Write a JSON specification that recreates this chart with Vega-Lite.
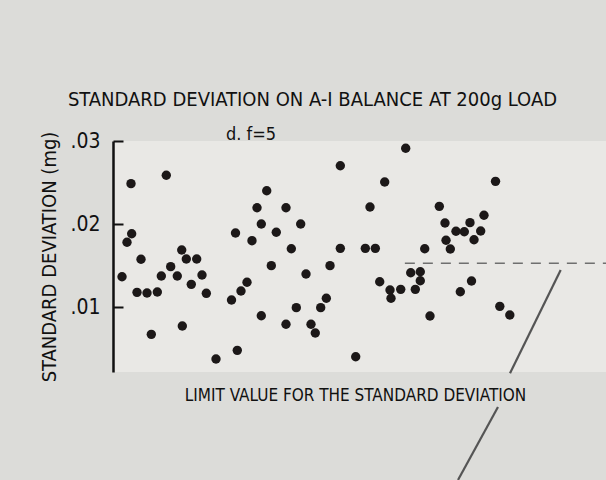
{
  "$schema": "https://vega.github.io/schema/vega-lite/v6.json",
  "width": 493,
  "height": 231,
  "autosize": "none",
  "padding": {"left": 113, "top": 141, "right": 0, "bottom": 108},
  "background": "#dcdcd9",
  "config": {
    "view": {"fill": "#e9e8e5", "stroke": null},
    "font": "'DejaVu Sans Condensed', Roboto, sans-serif"
  },
  "datasets": {
    "points": [
      {"sample": 1.83, "sd": 0.01365}, {"sample": 2.84, "sd": 0.0178}, {"sample": 3.79, "sd": 0.01883},
      {"sample": 3.65, "sd": 0.02486}, {"sample": 4.87, "sd": 0.01177}, {"sample": 5.68, "sd": 0.01575},
      {"sample": 6.90, "sd": 0.01169}, {"sample": 7.77, "sd": 0.00671}, {"sample": 8.99, "sd": 0.01181},
      {"sample": 9.80, "sd": 0.01373}, {"sample": 10.81, "sd": 0.02587}, {"sample": 11.70, "sd": 0.01486},
      {"sample": 13.04, "sd": 0.01373}, {"sample": 13.94, "sd": 0.01687}, {"sample": 14.06, "sd": 0.00771},
      {"sample": 14.87, "sd": 0.01578}, {"sample": 15.88, "sd": 0.01273}, {"sample": 16.98, "sd": 0.01578},
      {"sample": 18.05, "sd": 0.01386}, {"sample": 18.93, "sd": 0.01165}, {"sample": 20.89, "sd": 0.00373},
      {"sample": 24.04, "sd": 0.01084}, {"sample": 24.85, "sd": 0.01892}, {"sample": 25.21, "sd": 0.00478},
      {"sample": 25.96, "sd": 0.01193}, {"sample": 27.18, "sd": 0.01298}, {"sample": 28.19, "sd": 0.01799},
      {"sample": 29.21, "sd": 0.02196}, {"sample": 30.08, "sd": 0.02}, {"sample": 30.08, "sd": 0.00895},
      {"sample": 31.18, "sd": 0.02401}, {"sample": 32.11, "sd": 0.01498}, {"sample": 33.12, "sd": 0.019},
      {"sample": 35.09, "sd": 0.02196}, {"sample": 35.09, "sd": 0.00792}, {"sample": 36.17, "sd": 0.01702},
      {"sample": 37.18, "sd": 0.00992}, {"sample": 38.07, "sd": 0.02}, {"sample": 39.15, "sd": 0.01398},
      {"sample": 40.16, "sd": 0.00792}, {"sample": 41.03, "sd": 0.00687}, {"sample": 42.13, "sd": 0.00992},
      {"sample": 43.27, "sd": 0.01105}, {"sample": 44.02, "sd": 0.01498}, {"sample": 46.11, "sd": 0.02702},
      {"sample": 46.11, "sd": 0.01707}, {"sample": 49.23, "sd": 0.00401}, {"sample": 51.18, "sd": 0.01707},
      {"sample": 52.13, "sd": 0.02205}, {"sample": 53.21, "sd": 0.01707}, {"sample": 54.10, "sd": 0.01305},
      {"sample": 55.11, "sd": 0.02506}, {"sample": 56.19, "sd": 0.01205}, {"sample": 56.39, "sd": 0.01105},
      {"sample": 58.36, "sd": 0.01213}, {"sample": 59.37, "sd": 0.02912}, {"sample": 60.39, "sd": 0.01413},
      {"sample": 61.32, "sd": 0.01213}, {"sample": 62.33, "sd": 0.01425}, {"sample": 62.33, "sd": 0.01317},
      {"sample": 63.23, "sd": 0.01702}, {"sample": 64.30, "sd": 0.00892}, {"sample": 66.19, "sd": 0.02213},
      {"sample": 67.34, "sd": 0.02012}, {"sample": 67.55, "sd": 0.01804}, {"sample": 68.42, "sd": 0.01699},
      {"sample": 69.57, "sd": 0.01912}, {"sample": 70.45, "sd": 0.01184}, {"sample": 71.26, "sd": 0.01907},
      {"sample": 72.41, "sd": 0.02016}, {"sample": 72.72, "sd": 0.01313}, {"sample": 73.23, "sd": 0.01811},
      {"sample": 74.58, "sd": 0.01916}, {"sample": 75.25, "sd": 0.02105}, {"sample": 77.59, "sd": 0.02514},
      {"sample": 78.46, "sd": 0.01008}, {"sample": 80.49, "sd": 0.00904}
    ],
    "limit": [{"sample": 59.2, "sample2": 100, "sd": 0.01527}],
    "pointer": [
      {"sample": 90.81, "sd": 0.01446, "sample2": 80.53, "sd2": 0.00201},
      {"sample": 78.09, "sd": -0.00205, "sample2": 69.98, "sd2": -0.01084}
    ],
    "titleText": [{"sample": 40.47, "sd": 0.03494, "label": "STANDARD DEVIATION ON A-I BALANCE AT 200g LOAD"}],
    "dfText": [{"sample": 27.99, "sd": 0.03072, "label": "d. f=5"}],
    "limitText": [{"sample": 49.19, "sd": -0.00072, "label": "LIMIT VALUE FOR THE STANDARD DEVIATION"}]
  },
  "layer": [
    {
      "data": {"name": "points"},
      "mark": {"type": "circle", "size": 88, "opacity": 1, "color": "#1c1818"},
      "encoding": {
        "x": {"field": "sample", "type": "quantitative", "scale": {"domain": [0, 100], "nice": false, "zero": false}, "axis": null},
        "y": {
          "field": "sd", "type": "quantitative",
          "scale": {"domain": [0.00217, 0.03], "nice": false, "zero": false},
          "axis": {
            "title": "STANDARD DEVIATION (mg)",
            "values": [0.01, 0.02, 0.03],
            "labelExpr": "'.0' + format(datum.value * 100, 'd')",
            "domainColor": "#111", "domainWidth": 2.5,
            "tickColor": "#111", "tickWidth": 2, "tickSize": -10,
            "labelFontSize": 21, "labelColor": "#111",
            "labelPadding": 23,
            "titleFontSize": 20, "titleFontWeight": "normal", "titleColor": "#111",
            "titlePadding": 10,
            "grid": false
          }
        }
      }
    },
    {
      "data": {"name": "limit"},
      "mark": {"type": "rule", "color": "#6f6f6f", "strokeWidth": 1.6, "strokeDash": [10, 8]},
      "encoding": {
        "x": {"field": "sample", "type": "quantitative"},
        "x2": {"field": "sample2"},
        "y": {"field": "sd", "type": "quantitative"}
      }
    },
    {
      "data": {"name": "pointer"},
      "mark": {"type": "rule", "color": "#555", "strokeWidth": 2.2, "clip": false},
      "encoding": {
        "x": {"field": "sample", "type": "quantitative"},
        "x2": {"field": "sample2"},
        "y": {"field": "sd", "type": "quantitative"},
        "y2": {"field": "sd2"}
      }
    },
    {
      "data": {"name": "titleText"},
      "mark": {"type": "text", "color": "#111", "baseline": "middle", "align": "center", "clip": false, "fontSize": 20},
      "encoding": {
        "x": {"field": "sample", "type": "quantitative"},
        "y": {"field": "sd", "type": "quantitative"},
        "text": {"field": "label"}
      }
    },
    {
      "data": {"name": "dfText"},
      "mark": {"type": "text", "color": "#111", "baseline": "middle", "align": "center", "clip": false, "fontSize": 18},
      "encoding": {
        "x": {"field": "sample", "type": "quantitative"},
        "y": {"field": "sd", "type": "quantitative"},
        "text": {"field": "label"}
      }
    },
    {
      "data": {"name": "limitText"},
      "mark": {"type": "text", "color": "#111", "baseline": "middle", "align": "center", "clip": false, "fontSize": 17},
      "encoding": {
        "x": {"field": "sample", "type": "quantitative"},
        "y": {"field": "sd", "type": "quantitative"},
        "text": {"field": "label"}
      }
    }
  ]
}
